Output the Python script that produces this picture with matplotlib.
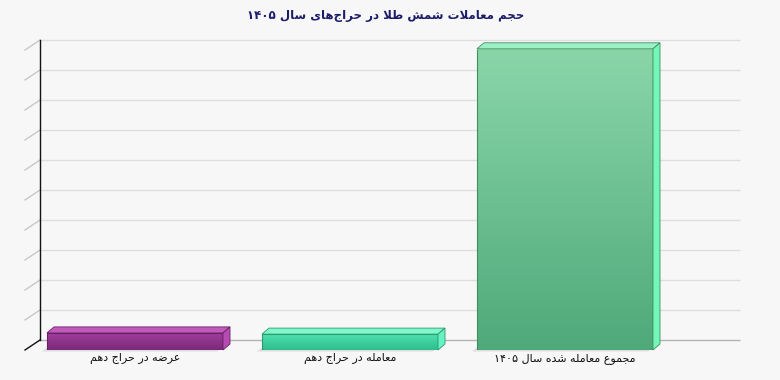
import numpy as np
import matplotlib
matplotlib.use("Agg")
import matplotlib.pyplot as plt
from matplotlib.patches import Polygon

# ---------------- data ----------------
title = "حجم معاملات شمش طلا در حراج‌های سال ۱۴۰۵"
categories = ["عرضه در حراج دهم", "معامله در حراج دهم", "مجموع معامله شده سال ۱۴۰۵"]
values = [57, 53, 1004]
y_ticks = [0, 100, 200, 300, 400, 500, 600, 700, 800, 900, 1000]
front_top = ["#a23e9e", "#4ee0ae", "#8ad6aa"]
front_bot = ["#7a2a78", "#2fbd8e", "#4fa97a"]
top_col = ["#c25aba", "#80f8cc", "#9cf0c6"]
side_col = ["#b54cb2", "#66f2c2", "#74f6b8"]
edge_col = ["#6a1f68", "#2a9a70", "#3d8f5e"]

# --------------- simple Arabic/Persian shaping ---------------
FORMS = {
    'ا': ('\uFE8D', '\uFE8E', None, None),
    'ب': ('\uFE8F', '\uFE90', '\uFE91', '\uFE92'),
    'ت': ('\uFE95', '\uFE96', '\uFE97', '\uFE98'),
    'ج': ('\uFE9D', '\uFE9E', '\uFE9F', '\uFEA0'),
    'ح': ('\uFEA1', '\uFEA2', '\uFEA3', '\uFEA4'),
    'د': ('\uFEA9', '\uFEAA', None, None),
    'ر': ('\uFEAD', '\uFEAE', None, None),
    'س': ('\uFEB1', '\uFEB2', '\uFEB3', '\uFEB4'),
    'ش': ('\uFEB5', '\uFEB6', '\uFEB7', '\uFEB8'),
    'ض': ('\uFEBD', '\uFEBE', '\uFEBF', '\uFEC0'),
    'ط': ('\uFEC1', '\uFEC2', '\uFEC3', '\uFEC4'),
    'ع': ('\uFEC9', '\uFECA', '\uFECB', '\uFECC'),
    'ل': ('\uFEDD', '\uFEDE', '\uFEDF', '\uFEE0'),
    'م': ('\uFEE1', '\uFEE2', '\uFEE3', '\uFEE4'),
    'ه': ('\uFEE9', '\uFEEA', '\uFEEB', '\uFEEC'),
    'و': ('\uFEED', '\uFEEE', None, None),
    'ی': ('\uFEEF', '\uFEF0', '\uFEF3', '\uFEF4'),
}
DIGITS = set('0123456789۰۱۲۳۴۵۶۷۸۹')


def shape(s):
    chars = list(s)
    n = len(chars)

    def dual(c):
        return c in FORMS and FORMS[c][2] is not None

    out = []
    i = 0
    while i < n:
        c = chars[i]
        if c not in FORMS:
            if c != '\u200c':
                out.append(c)
            i += 1
            continue
        prev = chars[i - 1] if i > 0 else ''
        jp = dual(prev)
        if c == 'ل' and i + 1 < n and chars[i + 1] == 'ا':
            out.append('\uFEFC' if jp else '\uFEFB')
            i += 2
            continue
        nxt = chars[i + 1] if i + 1 < n else ''
        jn = dual(c) and nxt in FORMS
        iso, fin, ini, med = FORMS[c]
        if jp and jn:
            g = med
        elif jp:
            g = fin
        elif jn:
            g = ini
        else:
            g = iso
        out.append(g)
        i += 1
    # visual order (RTL), digit runs stay LTR
    runs = []
    for ch in out:
        isd = ch in DIGITS
        if runs and runs[-1][0] == isd:
            runs[-1][1].append(ch)
        else:
            runs.append([isd, [ch]])
    res = ''
    for isd, r in reversed(runs):
        res += ''.join(r) if isd else ''.join(reversed(r))
    return res


# ---------------- figure ----------------
W, H, DPI = 780, 380, 100
BG = "#f7f7f7"
fig = plt.figure(figsize=(W / DPI, H / DPI), dpi=DPI, facecolor=BG)

# front plane of the 3D box (pixels)
fl, fr, fb, ft = 25, 725, 350, 50
ax = fig.add_axes([fl / W, (H - fb) / H, (fr - fl) / W, (fb - ft) / H])
ax.set_facecolor("none")
for s in ax.spines.values():
    s.set_visible(False)
ax.set_xticks([])
ax.set_yticks([])

xc0, xstep = 135, 215  # pixel centre of first category and spacing
xmin = (fl - xc0) / xstep
xmax = (fr - xc0) / xstep
ymax = y_ticks[-1]
ax.set_xlim(xmin, xmax)
ax.set_ylim(0, ymax)
px_x = xstep
px_y = (fb - ft) / ymax

WDX, WDY = 15 / px_x, 10 / px_y    # wall depth
BDX, BDY = 7 / px_x, 6 / px_y      # bar depth
bw = 176 / px_x

# back wall grid lines
ax.hlines([t + WDY for t in y_ticks[1:]], xmin + WDX, xmax + WDX,
          colors="#dedede", lw=1, clip_on=False, zorder=1)
ax.hlines([WDY], xmin + WDX, xmax + WDX, colors="#b4b4b4", lw=1,
          clip_on=False, zorder=1)
# left wall diagonal ticks
for t in y_ticks:
    ax.plot([xmin, xmin + WDX], [t, t + WDY],
            color="#111111" if t == 0 else "#c8c8c8", lw=1,
            clip_on=False, zorder=2)
# back-left vertical axis line
ax.plot([xmin + WDX, xmin + WDX], [WDY, ymax + WDY], color="#111111", lw=1,
        clip_on=False, zorder=3)

x = np.arange(len(categories))
# floor shadows
sx, sy = 5 / px_x, 1.5 / px_y
for xi in x:
    l = xi - bw / 2 - sx
    r = xi + bw / 2 - sx
    ax.add_patch(Polygon([(l, -sy), (r, -sy), (r + BDX + 2 / px_x, BDY),
                          (l + BDX + 2 / px_x, BDY)], closed=True,
                         fc="#dedede", ec="none", zorder=3, clip_on=False))

bars = ax.bar(x, values, width=bw, color="none", edgecolor="none", zorder=5)
for i, (b, v) in enumerate(zip(bars, values)):
    l = b.get_x()
    r = l + b.get_width()
    # gradient front face
    grad = np.linspace(0, 1, 256).reshape(-1, 1)
    c1 = np.array(matplotlib.colors.to_rgb(front_top[i]))
    c2 = np.array(matplotlib.colors.to_rgb(front_bot[i]))
    img = c1[None, None, :] * (1 - grad[:, :, None]) + c2[None, None, :] * grad[:, :, None]
    im = ax.imshow(img, extent=[l, r, 0, v], aspect="auto", zorder=5,
                   interpolation="bilinear")
    im.set_clip_path(b)
    ax.add_patch(Polygon([(l, 0), (r, 0), (r, v), (l, v)], closed=True,
                         fc="none", ec=edge_col[i], lw=0.8, zorder=6))
    # top face
    ax.add_patch(Polygon([(l, v), (r, v), (r + BDX, v + BDY), (l + BDX, v + BDY)],
                         closed=True, fc=top_col[i], ec=edge_col[i], lw=0.6,
                         zorder=6, clip_on=False))
    # right side face
    ax.add_patch(Polygon([(r, 0), (r + BDX, BDY), (r + BDX, v + BDY), (r, v)],
                         closed=True, fc=side_col[i], ec=edge_col[i], lw=0.6,
                         zorder=6, clip_on=False))
    # category label
    ax.text(b.get_x() + b.get_width() / 2, -8.5 / px_y, shape(categories[i]),
            ha="center", va="center", fontsize=8, color="#111111",
            family=["DejaVu Sans"], clip_on=False)
ax.set_xlim(xmin, xmax)
ax.set_ylim(0, ymax)

fig.text(0.494, 1 - 15 / H, shape(title), ha="center", va="center",
         fontsize=8.5, fontweight="bold", color="#1c1c6a", family=["DejaVu Sans"])

fig.savefig("out.png", dpi=DPI, facecolor=BG)
